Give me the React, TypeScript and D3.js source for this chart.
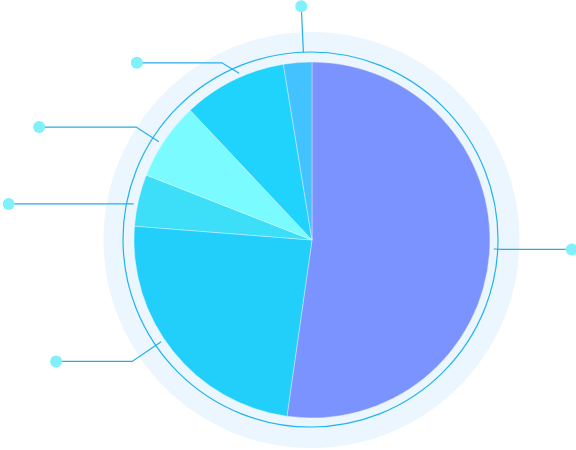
import React from "react";
import * as d3 from "d3";

const categories = ["A", "B", "C", "D", "E", "F"];
const values = [52.25, 24.0, 4.7, 7.06, 9.43, 2.57];
const colors = ["#7b93fe", "#22cffa", "#3cdef8", "#79fbff", "#20d3fd", "#44c2ff"];
// label line style per slice: angular shift (deg), first segment length, vertical nudge, second segment length
const labelShift = [-1.2, 4.7, -1.5, -1.4, 2.6, 2];
const labelLen = [8, 35, 0, 27, 43, 46];
const labelNudge = [0, 0, 0, 0, 29, 0];
const labelLen2 = [70, 76, 125, 97, 85, 0];

const W = 576;
const H = 450;
const cx = 312;
const cy = 240;
const R = 178;

export default function App() {
  const pie = d3.pie<number>().value((d) => d).sort(null);
  const arcs = pie(values);
  const arc = d3.arc<d3.PieArcDatum<number>>().innerRadius(0).outerRadius(R);

  const lines = arcs.map((a, i) => {
    const mid = (a.startAngle + a.endAngle) / 2 + (labelShift[i] * Math.PI) / 180;
    const r0 = i === 5 ? 188 : 182;
    const sx = Math.sin(mid);
    const sy = -Math.cos(mid);
    const x0 = cx + r0 * sx;
    const y0 = cy + r0 * sy;
    const x1 = x0 + labelLen[i] * sx;
    const y1 = y0 + labelLen[i] * sy + labelNudge[i];
    const dir = sx < 0 ? -1 : 1;
    const x2 = x1 + dir * labelLen2[i];
    const y2 = y1;
    return { x0, y0, x1, y1, x2, y2, key: categories[i] };
  });

  return (
    <div style={{ position: "absolute", left: 0, top: 0 }}>
      <svg width={W} height={H} style={{ display: "block" }}>
        <circle cx={cx - 0.5} cy={cy} r={208} fill="#ebf6fe" />
        <circle cx={cx - 1.5} cy={cy - 0.5} r={187.5} fill="none" stroke="#1eb4ee" strokeWidth={1.2} />
        <g transform={`translate(${cx},${cy})`}>
          {arcs.map((a, i) => (
            <path
              key={categories[i]}
              d={arc(a) || ""}
              fill={colors[i]}
              stroke="rgba(255,255,255,0.35)"
              strokeWidth={1}
            />
          ))}
        </g>
        {lines.map((l) => (
          <g key={l.key}>
            <polyline
              points={`${l.x0},${l.y0} ${l.x1},${l.y1} ${l.x2},${l.y2}`}
              fill="none"
              stroke="#27ade6"
              strokeWidth={1.2}
            />
            <circle cx={l.x2} cy={l.y2} r={6} fill="#80f0fb" />
          </g>
        ))}
      </svg>
    </div>
  );
}
